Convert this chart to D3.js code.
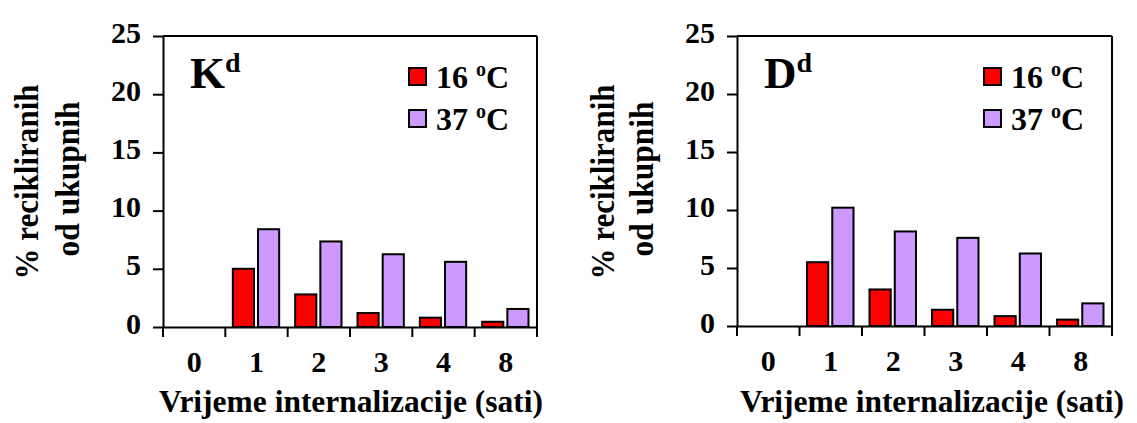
<!DOCTYPE html>
<html>
<head>
<meta charset="utf-8">
<script src="https://cdn.jsdelivr.net/npm/d3@7"></script>
<style>
  html, body { margin: 0; padding: 0; background: #fff; }
  svg { display: block; }
  text { font-family: "Liberation Serif", "Times New Roman", serif; font-weight: bold; fill: #000; }
</style>
</head>
<body>
<svg id="chart" width="1137" height="423"></svg>
<script>
// ---- data ----
const categories = ["0", "1", "2", "3", "4", "8"];
const seriesNames = ["16", "37"];
const kd16 = [0, 5.0, 2.8, 1.2, 0.8, 0.45];
const kd37 = [0, 8.4, 7.35, 6.25, 5.6, 1.55];
const dd16 = [0, 5.5, 3.15, 1.4, 0.85, 0.55];
const dd37 = [0, 10.2, 8.15, 7.6, 6.25, 1.95];
const yTicks = [0, 5, 10, 15, 20, 25];
const panelLabels = ["K", "D"];
const yTitleLines = ["% recikliranih", "od ukupnih"];
const xTitle = "Vrijeme internalizacije (sati)";
const colors = { "16": "#ff0000", "37": "#cc99ff" };

const svg = d3.select("#chart");

const panels = [
  { label: panelLabels[0], s16: kd16, s37: kd37, x0: 163, x1: 537, yTop: 36, yBase: 327, yt1: 26, yt2: 67, xTitleX: 351 },
  { label: panelLabels[1], s16: dd16, s37: dd37, x0: 737, x1: 1112, yTop: 36, yBase: 326, yt1: 602, yt2: 641, xTitleX: 932 }
];

panels.forEach(p => {
  const g = svg.append("g");
  const x = d3.scaleBand().domain(categories).range([p.x0, p.x1]).paddingInner(0).paddingOuter(0);
  const y = d3.scaleLinear().domain([0, 25]).range([p.yBase, p.yTop]);
  const bw = x.bandwidth();
  const xs = d3.scaleBand().domain(seriesNames).range([7.5, bw - 8.5]).paddingInner(0.16);

  const rows = categories.map((c, i) => ({ cat: c, vals: [{ s: "16", v: p.s16[i] }, { s: "37", v: p.s37[i] }] }));

  // bars
  const grp = g.selectAll("g.cat").data(rows).enter().append("g")
    .attr("transform", d => `translate(${x(d.cat)},0)`);
  grp.selectAll("rect").data(d => d.vals.filter(e => e.v > 0)).enter().append("rect")
    .attr("x", d => xs(d.s))
    .attr("width", xs.bandwidth())
    .attr("y", d => y(d.v))
    .attr("height", d => y(0) - y(d.v))
    .attr("fill", d => colors[d.s])
    .attr("stroke", "#000")
    .attr("stroke-width", 2);

  // frame top & right
  g.append("line").attr("x1", p.x0).attr("x2", p.x1).attr("y1", y(25)).attr("y2", y(25))
    .attr("stroke", "#000").attr("stroke-width", 2);
  g.append("line").attr("x1", p.x1).attr("x2", p.x1).attr("y1", y(25)).attr("y2", y(0))
    .attr("stroke", "#000").attr("stroke-width", 2);

  // y axis
  const ya = g.append("g").attr("transform", `translate(${p.x0},0)`)
    .call(d3.axisLeft(y).tickValues(yTicks).tickSize(10).tickPadding(12).tickSizeOuter(0));
  ya.select(".domain").attr("stroke-width", 2);
  ya.selectAll(".tick line").attr("stroke-width", 2);
  ya.selectAll(".tick text").style("font-size", "30px").attr("dy", "0.2em");

  // x axis: baseline, ticks at band boundaries
  const xa = g.append("g").attr("transform", `translate(0,${p.yBase})`)
    .call(d3.axisBottom(x).tickSize(0).tickPadding(45).tickSizeOuter(0));
  xa.select(".domain").attr("stroke-width", 2);
  xa.selectAll(".tick text").style("font-size", "30px").attr("dy", "0");
  const bounds = categories.map(c => x(c)).concat([p.x1]);
  g.selectAll("line.xt").data(bounds).enter().append("line")
    .attr("x1", d => d).attr("x2", d => d)
    .attr("y1", p.yBase).attr("y2", p.yBase + 10)
    .attr("stroke", "#000").attr("stroke-width", 2);

  // y title (two lines)
  const ymid = 182;
  g.append("text").attr("transform", `translate(${p.yt1},${ymid}) rotate(-90)`)
    .attr("text-anchor", "middle").attr("dy", "0.35em").style("font-size", "33px")
    .attr("textLength", 195).attr("lengthAdjust", "spacingAndGlyphs").text(yTitleLines[0]);
  g.append("text").attr("transform", `translate(${p.yt2},${ymid - 3}) rotate(-90)`)
    .attr("text-anchor", "middle").attr("dy", "0.35em").style("font-size", "33px")
    .attr("textLength", 155).attr("lengthAdjust", "spacingAndGlyphs").text(yTitleLines[1]);

  // x title
  g.append("text").attr("x", p.xTitleX).attr("y", 412).attr("text-anchor", "middle")
    .style("font-size", "32px").attr("textLength", 384).attr("lengthAdjust", "spacingAndGlyphs").text(xTitle);

  // panel label with superscript d
  const pl = g.append("text").attr("x", p.x0 + 27).attr("y", 88).style("font-size", "45px");
  pl.append("tspan").text(p.label);
  pl.append("tspan").attr("dy", -16).style("font-size", "28px").text("d");

  // legend
  const lx = p.x1 - 128;
  seriesNames.forEach((s, i) => {
    const ly = 77 + i * 42;
    g.append("rect").attr("x", lx).attr("y", ly - 9).attr("width", 17).attr("height", 17)
      .attr("fill", colors[s]).attr("stroke", "#000").attr("stroke-width", 2);
    const t = g.append("text").attr("x", lx + 27).attr("y", ly + 11).style("font-size", "32px");
    t.append("tspan").text(s + " ");
    t.append("tspan").attr("dy", -12).style("font-size", "20px").text("o");
    t.append("tspan").attr("dy", 12).text("C");
  });
});
</script>
</body>
</html>
